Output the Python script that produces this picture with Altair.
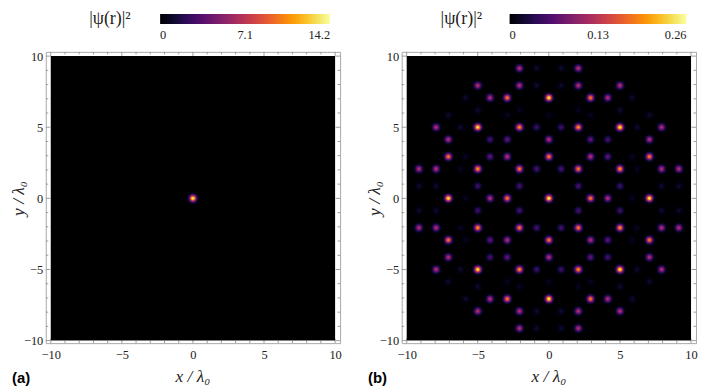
import altair as alt
import pandas as pd

# ---------------- data (units of lambda_0) ----------------
# panel (a): a single spot at the origin
A_X = [0.0]
A_Y = [0.0]
A_V = [14.2]
A_MAX = 14.2
A_LEGEND = [0, 7.1, 14.2]

# panel (b): spots in the first quadrant (x>=0, y>=0); the pattern is mirror-symmetric in x and y
B_X = [0.00, 2.93, 0.00, 4.14, 0.00, 5.86, 0.00, 7.07, 0.00,
       2.07, 2.93, 2.07, 5.00, 5.00, 2.93, 7.07, 4.14, 7.07,
       2.07, 7.93, 5.00, 7.93, 2.07, 9.14,
       2.93, 4.14, 4.14, 0.86, 2.07, 0.86, 5.00,
       0.86, 7.93, 0.86, 9.14, 5.86, 7.07, 6.21, 5.00, 6.21, 2.07, 5.86, 2.93]
B_Y = [0.00, 0.00, 2.93, 0.00, 4.14, 0.00, 5.86, 0.00, 7.07,
       2.07, 2.93, 5.00, 2.07, 5.00, 7.07, 2.93, 7.07, 4.14,
       7.93, 2.07, 7.93, 5.00, 9.14, 2.07,
       4.14, 2.93, 4.14, 2.07, 0.86, 5.00, 0.86,
       7.93, 0.86, 9.14, 0.86, 7.07, 5.86, 5.00, 6.21, 2.07, 6.21, 2.93, 5.86]
B_V = [0.260, 0.190, 0.190, 0.125, 0.125, 0.015, 0.015, 0.255, 0.255,
       0.190, 0.125, 0.205, 0.205, 0.255, 0.190, 0.190, 0.125, 0.125,
       0.125, 0.125, 0.125, 0.125, 0.125, 0.125,
       0.075, 0.075, 0.060, 0.060, 0.060, 0.055, 0.055,
       0.022, 0.022, 0.022, 0.022, 0.022, 0.022, 0.022, 0.022, 0.016, 0.016, 0.016, 0.016]
B_MAX = 0.26
B_LEGEND = [0, 0.13, 0.26]

MAJOR_TICKS = [-10, -5, 0, 5, 10]
MINOR_TICKS = [-9, -8, -7, -6, -4, -3, -2, -1, 1, 2, 3, 4, 6, 7, 8, 9]

LEGEND_TITLE = "|ψ(r)|²"
X_TITLE = "x / λ₀"
Y_TITLE = "y / λ₀"

# glow profile of a spot (style): ring radius in px, fraction of the peak value
GLOW_R = [7.3, 6.2, 5.2, 4.3, 3.5, 2.8, 2.1, 1.5, 0.9, 0.45]
GLOW_F = [0.024, 0.072, 0.162, 0.292, 0.445, 0.607, 0.768, 0.892, 0.964, 0.996]

SERIF = "Liberation Serif"
W, H = 296, 293
XS = alt.Scale(domain=[-10.35, 10.35], nice=False, zero=False)
YS = alt.Scale(domain=[-10.18, 10.30], nice=False, zero=False)

AXIS_COMMON = dict(values=MAJOR_TICKS, ticks=False, domain=False, grid=False, title=None,
                   labelFont=SERIF, labelFontSize=12.5, labelColor="#222")
AX = alt.Axis(labelPadding=5, **AXIS_COMMON)
AY = alt.Axis(labelPadding=3, **AXIS_COMMON)


def mirror(xs, ys, vs):
    rows = []
    for x, y, v in zip(xs, ys, vs):
        for sx in ([1, -1] if x else [1]):
            for sy in ([1, -1] if y else [1]):
                rows.append((sx * x, sy * y, v))
    return rows


def glow_table(rows):
    out = []
    for x, y, v in rows:
        for k, (r, f) in enumerate(zip(GLOW_R, GLOW_F)):
            out.append({"x": x, "y": y, "c": v * f, "s": 3.1416 * r * r, "k": k})
    return pd.DataFrame(out)


def tick_layers(vals, L):
    d = pd.DataFrame({"t": vals})
    base = alt.Chart(d).mark_rule(color="#9c9c9c", strokeWidth=1)
    tx = alt.X("t:Q", scale=XS, axis=AX)
    ty = alt.Y("t:Q", scale=YS, axis=AY)
    return [
        base.encode(x=tx, y=alt.value(0), y2=alt.value(L)),
        base.encode(x=tx, y=alt.value(H), y2=alt.value(H - L)),
        base.encode(y=ty, x=alt.value(0), x2=alt.value(L)),
        base.encode(y=ty, x=alt.value(W), x2=alt.value(W - L)),
    ]


def text_layer(txt, x, y, **kw):
    return alt.Chart(pd.DataFrame({"t": [txt]})).mark_text(**kw).encode(
        x=alt.value(x), y=alt.value(y), text="t:N")


def panel(rows, vmax, legend_vals, grad_x, grad_len, title_cx, tag):
    img = alt.Chart(pd.DataFrame({"x1": [-10], "x2": [10], "y1": [-10], "y2": [10]})).mark_rect(
        color="black").encode(
        x=alt.X("x1:Q", scale=XS, axis=AX),
        x2="x2:Q",
        y=alt.Y("y1:Q", scale=YS, axis=AY),
        y2="y2:Q",
    )
    spots = alt.Chart(glow_table(rows)).mark_circle(opacity=1).encode(
        x=alt.X("x:Q", scale=XS, axis=AX),
        y=alt.Y("y:Q", scale=YS, axis=AY),
        size=alt.Size("s:Q", scale=None),
        order=alt.Order("k:Q"),
        color=alt.Color("c:Q", scale=alt.Scale(scheme="inferno", domain=[0, vmax], clamp=True),
                        legend=alt.Legend(title=None, orient="none", legendX=grad_x, legendY=-38,
                                          padding=0, direction="horizontal", gradientLength=grad_len,
                                          gradientThickness=10, gradientStrokeWidth=0,
                                          values=legend_vals, format=".2~f", labelAlign="center",
                                          labelFont=SERIF, labelFontSize=12.5, labelColor="#222",
                                          labelOffset=5, labelOverlap=False)),
    )
    texts = [
        text_layer(tag, -34, 328, font="Liberation Sans", fontWeight="bold", fontSize=15,
                   align="left", baseline="middle", color="black"),
        text_layer(X_TITLE, W / 2, 327, font=SERIF, fontStyle="italic", fontSize=17.5,
                   align="center", baseline="middle", color="#222"),
        text_layer(Y_TITLE, -27, H / 2 + 1, font=SERIF, fontStyle="italic", fontSize=17.5,
                   align="center", baseline="middle", angle=270, color="#222"),
        text_layer(LEGEND_TITLE, title_cx, -33.5, font=SERIF, fontSize=18,
                   align="center", baseline="middle", color="#222"),
    ]
    layers = tick_layers(MAJOR_TICKS, 4.5) + tick_layers(MINOR_TICKS, 2.5) + [img, spots] + texts
    return alt.layer(*layers).properties(width=W, height=H)


pa = panel(mirror(A_X, A_Y, A_V), A_MAX, A_LEGEND, 115, 171, 64.5, "(a)")
pb = panel(mirror(B_X, B_Y, B_V), B_MAX, B_LEGEND, 108.5, 178, 60, "(b)")

chart = alt.hconcat(pa, pb, spacing=62).resolve_scale(color="independent").properties(
    padding={"left": 1, "top": 0, "right": 0, "bottom": 0}, bounds="flush"
).configure_view(stroke="#a8a8a8", strokeWidth=1, fill="white")

chart.save("out.html", embed_options={"renderer": "svg", "actions": False})
